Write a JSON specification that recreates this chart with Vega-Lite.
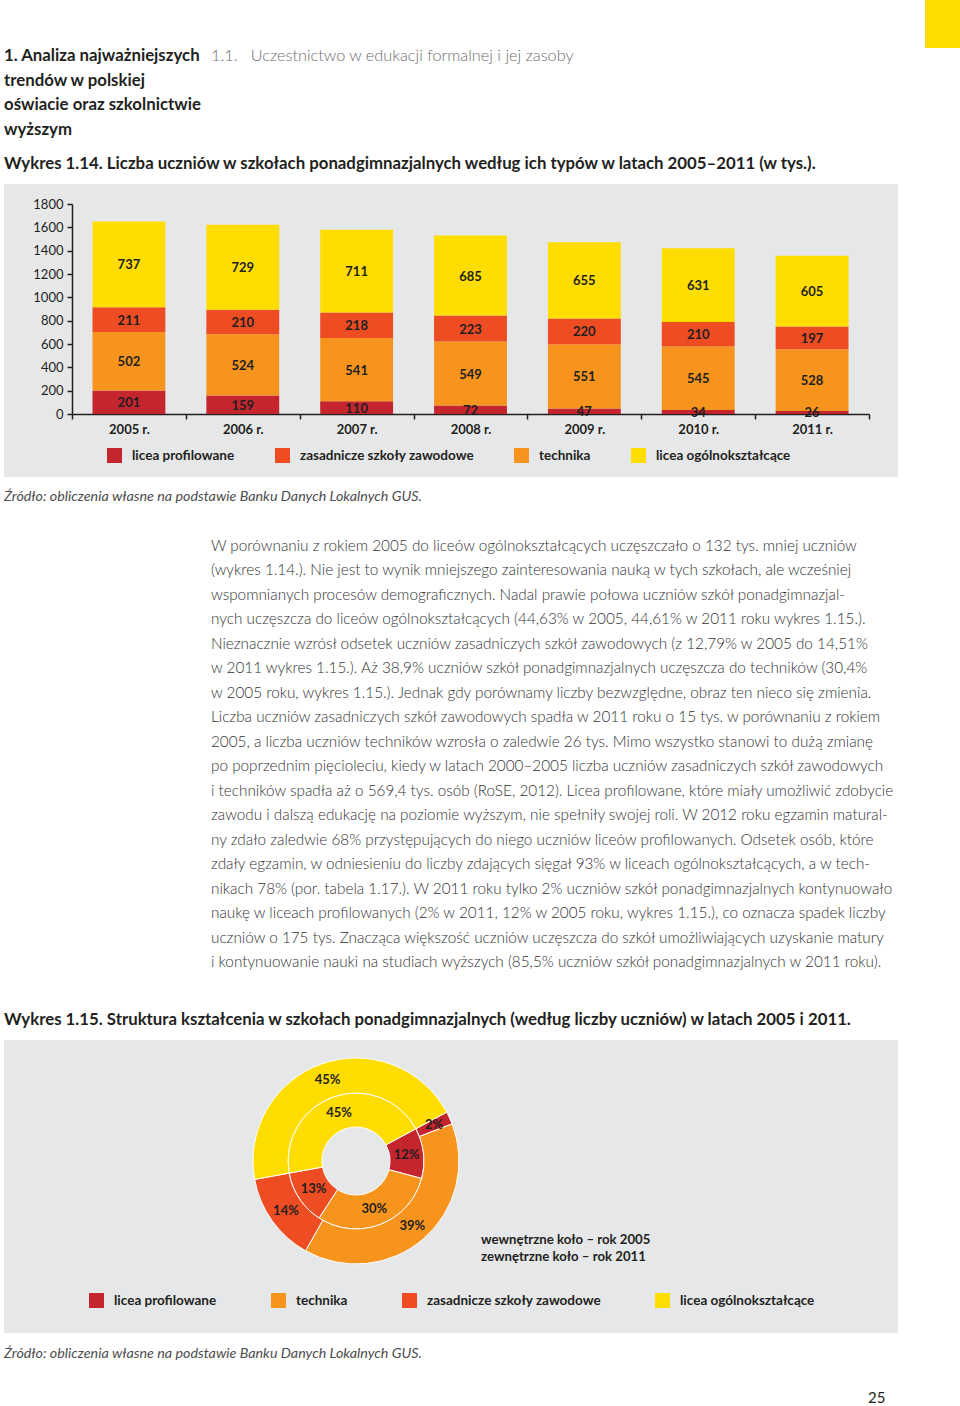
{
  "$schema": "https://vega.github.io/schema/vega-lite/v6.json",
  "background": "#ffffff",
  "padding": {"left": 4, "top": 0, "right": 0, "bottom": 0},
  "spacing": 0,
  "bounds": "flush",
  "resolve": {"scale": {"color": "independent"}, "legend": {"color": "independent"}},
  "config": {
    "font": "Lato",
    "view": {"stroke": null},
    "title": {"font": "Lato", "color": "#231f20", "anchor": "start", "fontSize": 16.8, "fontWeight": "bold"},
    "axis": {"labelFont": "Lato", "grid": false, "title": null},
    "legend": {"labelFont": "Lato"},
    "text": {"font": "Lato"}
  },
  "datasets": {
    "bars": [
      {"rok": "2005 r.", "typ": "licea profilowane", "nr": 1, "liczba": 201},
      {"rok": "2005 r.", "typ": "technika", "nr": 2, "liczba": 502},
      {"rok": "2005 r.", "typ": "zasadnicze szkoły zawodowe", "nr": 3, "liczba": 211},
      {"rok": "2005 r.", "typ": "licea ogólnokształcące", "nr": 4, "liczba": 737},
      {"rok": "2006 r.", "typ": "licea profilowane", "nr": 1, "liczba": 159},
      {"rok": "2006 r.", "typ": "technika", "nr": 2, "liczba": 524},
      {"rok": "2006 r.", "typ": "zasadnicze szkoły zawodowe", "nr": 3, "liczba": 210},
      {"rok": "2006 r.", "typ": "licea ogólnokształcące", "nr": 4, "liczba": 729},
      {"rok": "2007 r.", "typ": "licea profilowane", "nr": 1, "liczba": 110},
      {"rok": "2007 r.", "typ": "technika", "nr": 2, "liczba": 541},
      {"rok": "2007 r.", "typ": "zasadnicze szkoły zawodowe", "nr": 3, "liczba": 218},
      {"rok": "2007 r.", "typ": "licea ogólnokształcące", "nr": 4, "liczba": 711},
      {"rok": "2008 r.", "typ": "licea profilowane", "nr": 1, "liczba": 72},
      {"rok": "2008 r.", "typ": "technika", "nr": 2, "liczba": 549},
      {"rok": "2008 r.", "typ": "zasadnicze szkoły zawodowe", "nr": 3, "liczba": 223},
      {"rok": "2008 r.", "typ": "licea ogólnokształcące", "nr": 4, "liczba": 685},
      {"rok": "2009 r.", "typ": "licea profilowane", "nr": 1, "liczba": 47},
      {"rok": "2009 r.", "typ": "technika", "nr": 2, "liczba": 551},
      {"rok": "2009 r.", "typ": "zasadnicze szkoły zawodowe", "nr": 3, "liczba": 220},
      {"rok": "2009 r.", "typ": "licea ogólnokształcące", "nr": 4, "liczba": 655},
      {"rok": "2010 r.", "typ": "licea profilowane", "nr": 1, "liczba": 34},
      {"rok": "2010 r.", "typ": "technika", "nr": 2, "liczba": 545},
      {"rok": "2010 r.", "typ": "zasadnicze szkoły zawodowe", "nr": 3, "liczba": 210},
      {"rok": "2010 r.", "typ": "licea ogólnokształcące", "nr": 4, "liczba": 631},
      {"rok": "2011 r.", "typ": "licea profilowane", "nr": 1, "liczba": 26},
      {"rok": "2011 r.", "typ": "technika", "nr": 2, "liczba": 528},
      {"rok": "2011 r.", "typ": "zasadnicze szkoły zawodowe", "nr": 3, "liczba": 197},
      {"rok": "2011 r.", "typ": "licea ogólnokształcące", "nr": 4, "liczba": 605}
    ],
    "ring2005": [
      {"typ": "licea profilowane", "nr": 1, "udzial": 0.12},
      {"typ": "technika", "nr": 2, "udzial": 0.30},
      {"typ": "zasadnicze szkoły zawodowe", "nr": 3, "udzial": 0.13},
      {"typ": "licea ogólnokształcące", "nr": 4, "udzial": 0.45}
    ],
    "ring2011": [
      {"typ": "licea profilowane", "nr": 1, "udzial": 0.02},
      {"typ": "technika", "nr": 2, "udzial": 0.39},
      {"typ": "zasadnicze szkoły zawodowe", "nr": 3, "udzial": 0.14},
      {"typ": "licea ogólnokształcące", "nr": 4, "udzial": 0.45}
    ]
  },
  "vconcat": [
    {
      "spacing": 0,
      "bounds": "flush",
      "hconcat": [
        {
          "width": 207, "height": 48, "data": {"values": []}, "mark": "point",
          "title": {"text": ["1. Analiza najważniejszych", "trendów w polskiej", "oświacie oraz szkolnictwie", "wyższym"], "orient": "bottom", "anchor": "start", "offset": 0, "fontSize": 16.8, "fontWeight": "bold", "lineHeight": 24.5}
        },
        {
          "width": 714, "height": 48, "data": {"values": []}, "mark": "point",
          "title": {"text": "1.1.\u00a0\u00a0\u00a0Uczestnictwo w edukacji formalnej i jej zasoby", "orient": "bottom", "anchor": "start", "offset": 0, "fontSize": 16.3, "fontWeight": 300, "color": "#6d6e71"}
        },
        {
          "width": 35, "height": 48, "data": {"values": []}, "mark": "point",
          "view": {"fill": "#ffdd00", "stroke": null}
        }
      ]
    },
    {"width": 894, "height": 184, "data": {"values": []}, "mark": "point"},
    {
      "width": 894,
      "height": 293,
      "view": {"fill": "#e6e7e8", "stroke": null},
      "data": {"name": "bars"},
      "title": {"text": "Wykres 1.14. Liczba uczniów w szkołach ponadgimnazjalnych według ich typów w latach 2005–2011 (w tys.).", "orient": "top", "anchor": "start", "offset": 11, "fontSize": 16.8, "fontWeight": "bold"},
      "encoding": {
        "x": {
          "field": "rok", "type": "nominal", "sort": null,
          "scale": {"range": [68, 865], "paddingInner": 0, "paddingOuter": 0},
          "axis": {"orient": "bottom", "offset": -63, "tickBand": "extent", "labelAngle": 0, "labelFontWeight": "bold", "labelFontSize": 13, "labelColor": "#231f20", "labelPadding": 4, "tickSize": 5, "tickColor": "#231f20", "tickWidth": 1.5, "domainColor": "#231f20", "domainWidth": 1.5, "title": null}
        }
      },
      "layer": [
        {
          "mark": {"type": "bar", "width": {"band": 0.64}},
          "encoding": {
            "y": {
              "field": "liczba", "type": "quantitative", "stack": "zero",
              "scale": {"domain": [0, 1800], "range": [230, 20], "nice": false, "zero": true},
              "axis": {"offset": -68, "values": [0, 200, 400, 600, 800, 1000, 1200, 1400, 1600, 1800], "format": "d", "labelOverlap": false, "labelFontSize": 13, "labelColor": "#231f20", "labelPadding": 4, "tickSize": 5, "tickColor": "#231f20", "tickWidth": 1.5, "domainColor": "#231f20", "domainWidth": 1.5, "title": null}
            },
            "color": {
              "field": "typ", "type": "nominal",
              "scale": {"domain": ["licea profilowane", "zasadnicze szkoły zawodowe", "technika", "licea ogólnokształcące"], "range": ["#c5252d", "#ee4c23", "#f7941d", "#ffdd00"]},
              "legend": {"orient": "none", "legendX": 103, "legendY": 264, "direction": "horizontal", "columns": 4, "columnPadding": 40, "symbolType": "square", "symbolSize": 225, "symbolStrokeWidth": 0, "labelFontSize": 13.5, "labelFontWeight": "bold", "labelColor": "#231f20", "labelOffset": 10, "labelLimit": 400, "title": null, "padding": 0}
            },
            "order": {"field": "nr", "type": "quantitative"}
          }
        },
        {
          "mark": {"type": "text", "dy": 1, "fontSize": 13, "fontWeight": "bold", "color": "#231f20"},
          "encoding": {
            "y": {
              "field": "liczba", "type": "quantitative", "stack": "zero", "bandPosition": 0.5,
              "axis": {"offset": -68, "values": [0, 200, 400, 600, 800, 1000, 1200, 1400, 1600, 1800], "format": "d", "labelOverlap": false, "labelFontSize": 13, "labelColor": "#231f20", "labelPadding": 4, "tickSize": 5, "tickColor": "#231f20", "tickWidth": 1.5, "domainColor": "#231f20", "domainWidth": 1.5, "title": null}
            },
            "detail": {"field": "typ", "type": "nominal"},
            "order": {"field": "nr", "type": "quantitative"},
            "text": {"field": "liczba", "type": "quantitative"}
          }
        }
      ]
    },
    {
      "width": 894, "height": 1, "data": {"values": []}, "mark": "point",
      "title": {"text": "Źródło: obliczenia własne na podstawie Banku Danych Lokalnych GUS.", "orient": "bottom", "anchor": "start", "offset": 12, "fontSize": 14.3, "fontWeight": "normal", "fontStyle": "italic", "color": "#4d4d4f"}
    },
    {
      "width": 894, "height": 1, "data": {"values": []}, "mark": "point",
      "title": {
        "text": [
          "W porównaniu z rokiem 2005 do liceów ogólnokształcących uczęszczało o 132 tys. mniej uczniów",
          "(wykres 1.14.). Nie jest to wynik mniejszego zainteresowania nauką w tych szkołach, ale wcześniej",
          "wspomnianych procesów demograficznych. Nadal prawie połowa uczniów szkół ponadgimnazjal-",
          "nych uczęszcza do liceów ogólnokształcących (44,63% w 2005, 44,61% w 2011 roku wykres 1.15.).",
          "Nieznacznie wzrósł odsetek uczniów zasadniczych szkół zawodowych (z 12,79% w 2005 do 14,51%",
          "w 2011 wykres 1.15.). Aż 38,9% uczniów szkół ponadgimnazjalnych uczęszcza do techników (30,4%",
          "w 2005 roku, wykres 1.15.). Jednak gdy porównamy liczby bezwzględne, obraz ten nieco się zmienia.",
          "Liczba uczniów zasadniczych szkół zawodowych spadła w 2011 roku o 15 tys. w porównaniu z rokiem",
          "2005, a liczba uczniów techników wzrosła o zaledwie 26 tys. Mimo wszystko stanowi to dużą zmianę",
          "po poprzednim pięcioleciu, kiedy w latach 2000–2005 liczba uczniów zasadniczych szkół zawodowych",
          "i techników spadła aż o 569,4 tys. osób (RoSE, 2012). Licea profilowane, które miały umożliwić zdobycie",
          "zawodu i dalszą edukację na poziomie wyższym, nie spełniły swojej roli. W 2012 roku egzamin matural-",
          "ny zdało zaledwie 68% przystępujących do niego uczniów liceów profilowanych. Odsetek osób, które",
          "zdały egzamin, w odniesieniu do liczby zdających sięgał 93% w liceach ogólnokształcących, a w tech-",
          "nikach 78% (por. tabela 1.17.). W 2011 roku tylko 2% uczniów szkół ponadgimnazjalnych kontynuowało",
          "naukę w liceach profilowanych (2% w 2011, 12% w 2005 roku, wykres 1.15.), co oznacza spadek liczby",
          "uczniów o 175 tys. Znacząca większość uczniów uczęszcza do szkół umożliwiających uzyskanie matury",
          "i kontynuowanie nauki na studiach wyższych (85,5% uczniów szkół ponadgimnazjalnych w 2011 roku)."
        ],
        "orient": "bottom", "anchor": "start", "dx": 207, "offset": 60, "fontSize": 15.3, "fontWeight": 300, "color": "#333335", "lineHeight": 24.47
      }
    },
    {"width": 894, "height": 561, "data": {"values": []}, "mark": "point"},
    {
      "spacing": 0,
      "bounds": "flush",
      "hconcat": [
        {
          "width": 704,
          "height": 242,
          "view": {"fill": "#e6e7e8", "stroke": null},
          "title": {"text": "Wykres 1.15. Struktura kształcenia w szkołach ponadgimnazjalnych (według liczby uczniów) w latach 2005 i 2011.", "orient": "top", "anchor": "start", "offset": 11, "fontSize": 16.8, "fontWeight": "bold"},
          "layer": [
            {
              "data": {"name": "ring2005"},
              "mark": {"type": "arc", "outerRadius": 68, "innerRadius": 34, "stroke": "#ffffff", "strokeWidth": 1},
              "encoding": {
                "theta": {"field": "udzial", "type": "quantitative", "stack": "zero", "scale": {"range": [1.077, 7.3602]}},
                "color": {
                  "field": "typ", "type": "nominal",
                  "scale": {"domain": ["licea profilowane", "technika", "zasadnicze szkoły zawodowe", "licea ogólnokształcące"], "range": ["#c5252d", "#f7941d", "#ee4c23", "#ffdd00"]},
                  "legend": null
                },
                "order": {"field": "nr", "type": "quantitative"}
              }
            },
            {
              "data": {"name": "ring2011"},
              "mark": {"type": "arc", "outerRadius": 103, "innerRadius": 68, "stroke": "#ffffff", "strokeWidth": 1},
              "encoding": {
                "theta": {"field": "udzial", "type": "quantitative", "stack": "zero"},
                "color": {"field": "typ", "type": "nominal", "legend": null},
                "order": {"field": "nr", "type": "quantitative"}
              }
            },
            {
              "data": {"name": "ring2005"},
              "mark": {"type": "text", "radius": 51, "fontSize": 13, "fontWeight": "bold", "color": "#231f20"},
              "encoding": {
                "theta": {"field": "udzial", "type": "quantitative", "stack": "zero"},
                "detail": {"field": "typ", "type": "nominal"},
                "order": {"field": "nr", "type": "quantitative"},
                "text": {"field": "udzial", "type": "quantitative", "format": ".0%"}
              }
            },
            {
              "data": {"name": "ring2011"},
              "mark": {"type": "text", "radius": 86, "fontSize": 13, "fontWeight": "bold", "color": "#231f20"},
              "encoding": {
                "theta": {"field": "udzial", "type": "quantitative", "stack": "zero"},
                "detail": {"field": "typ", "type": "nominal"},
                "order": {"field": "nr", "type": "quantitative"},
                "text": {"field": "udzial", "type": "quantitative", "format": ".0%"}
              }
            }
          ]
        },
        {
          "width": 190, "height": 242, "data": {"values": []}, "mark": "point",
          "view": {"fill": "#e6e7e8", "stroke": null}
        }
      ]
    },
    {"width": 894, "height": 242, "data": {"values": []}, "mark": "point"},
    {
      "width": 894, "height": 51,
      "view": {"fill": "#e6e7e8", "stroke": null},
      "data": {"values": []},
      "mark": {"type": "square"},
      "encoding": {
        "color": {
          "field": "typ", "type": "nominal",
          "scale": {"domain": ["licea profilowane", "technika", "zasadnicze szkoły zawodowe", "licea ogólnokształcące"], "range": ["#c5252d", "#f7941d", "#ee4c23", "#ffdd00"]},
          "legend": {"orient": "none", "legendX": 85, "legendY": 11, "direction": "horizontal", "columns": 4, "columnPadding": 54, "symbolType": "square", "symbolSize": 225, "symbolStrokeWidth": 0, "symbolOpacity": 1, "labelFontSize": 13.5, "labelFontWeight": "bold", "labelColor": "#231f20", "labelOffset": 10, "labelLimit": 400, "title": null, "padding": 0}
        }
      },
      "title": {"text": ["wewnętrzne koło – rok 2005", "zewnętrzne koło – rok 2011"], "orient": "top", "anchor": "start", "dx": 477, "offset": 18, "fontSize": 13.2, "fontWeight": "bold", "lineHeight": 17}
    },
    {
      "width": 894, "height": 1, "data": {"values": []}, "mark": "point",
      "title": {"text": "Źródło: obliczenia własne na podstawie Banku Danych Lokalnych GUS.", "orient": "bottom", "anchor": "start", "offset": 13, "fontSize": 14.3, "fontWeight": "normal", "fontStyle": "italic", "color": "#4d4d4f"}
    },
    {
      "width": 894, "height": 1, "data": {"values": []}, "mark": "point",
      "title": {"text": "25", "orient": "bottom", "anchor": "start", "dx": 864, "offset": 56, "fontSize": 15, "fontWeight": "normal", "color": "#231f20"}
    }
  ]
}
